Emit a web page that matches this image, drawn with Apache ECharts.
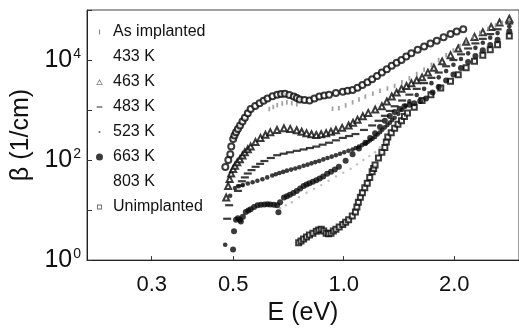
<!DOCTYPE html>
<html>
<head>
<meta charset="utf-8">
<script src="https://cdn.jsdelivr.net/npm/echarts@6/dist/echarts.min.js"></script>
<style>
html,body{margin:0;padding:0;background:#fff;}
#chart{width:519px;height:331px;}
</style>
</head>
<body>
<div id="chart"></div>
<script>
// ---- data (E in eV, beta in 1/cm) ----
const seriesNames = ['As implanted','433 K','463 K','483 K','523 K','663 K','803 K','Unimplanted'];
const xTickValues = [0.3, 0.5, 1.0, 2.0];

const asImplE = [0.627,0.643,0.659,0.680,0.700,0.722,0.745,0.932,0.970,1.012,1.057,1.100,1.145,1.200,1.255,1.315,1.376,1.440,1.509,1.580,1.655,1.733,1.813,1.900,1.989,2.070,2.154,2.250,2.348,2.470,2.590,2.700,2.823];
const asImplB = [1046,1150,1250,1350,1425,1370,1300,1060,1090,1240,1425,1620,1860,2130,2420,2700,3030,3600,4310,5250,6420,8000,10000,12500,15600,19000,23200,28500,34500,41500,49200,55500,61400];

const k433E = [0.476,0.485,0.491,0.494,0.500,0.504,0.509,0.515,0.522,0.530,0.538,0.548,0.558,0.574,0.590,0.605,0.620,0.640,0.659,0.675,0.692,0.711,0.731,0.745,0.759,0.782,0.807,0.832,0.858,0.885,0.912,0.952,0.994,1.025,1.057,1.090,1.124,1.160,1.195,1.232,1.270,1.310,1.351,1.393,1.436,1.480,1.528,1.590,1.655,1.722,1.792,1.870,1.953,2.030,2.115];
const k433B = [73,100,130,186,265,310,361,420,492,590,702,860,1050,1200,1360,1530,1700,1880,2030,2100,2120,2000,1860,1740,1630,1580,1560,1700,1860,1950,2030,2180,2320,2420,2530,2800,3160,3600,4120,4800,5620,6550,7670,8800,10000,11700,13600,16000,18600,21300,24200,28500,33000,37000,41200];

const k463E = [0.4786,0.4845,0.489,0.4936,0.500,0.5058,0.513,0.5216,0.530,0.5378,0.548,0.558,0.575,0.5933,0.612,0.631,0.658,0.6875,0.715,0.7447,0.768,0.7919,0.817,0.842,0.868,0.8954,0.923,0.9521,0.990,1.031,1.060,1.090,1.127,1.166,1.218,1.270,1.310,1.351,1.393,1.436,1.482,1.528,1.580,1.634,1.695,1.759,1.853,1.953,2.050,2.154,2.270,2.391,2.520,2.655,2.823];
const k463B = [17.8,30.3,42,53.8,66,76.7,90,104,123,143,165,186,230,277,320,361,400,431,420,394,368,345,328,316,328,345,368,394,440,492,560,642,750,876,1020,1190,1480,1860,2230,2650,3030,3450,3950,4500,5600,7020,9400,12500,17000,23200,29000,36100,45500,56200,67100];

const k483E = [0.4816,0.4875,0.5152,0.522,0.528,0.538,0.5479,0.561,0.5754,0.592,0.6081,0.633,0.6587,0.686,0.7135,0.745,0.7775,0.809,0.842,0.876,0.912,0.952,0.9939,1.034,1.076,1.135,1.195,1.244,1.294,1.335,1.376,1.442,1.509,1.580,1.655,1.733,1.814,1.900,1.989,2.085,2.181,2.283,2.391,2.505,2.623,2.823];
const k483B = [6.71,12.5,24.2,31,37.7,45,53.8,63,73.3,84,95.7,110,125,134,143,153,163,174,186,203,222,248,277,302,331,400,492,610,767,960,1190,1550,2030,2650,3450,4400,5620,7500,10000,13000,17000,21500,26500,33000,41200,53800];

const k523E = [0.4756,0.4906,0.5058,0.518,0.5313,0.548,0.5649,0.582,0.6006,0.619,0.6387,0.653,0.668,0.684,0.7004,0.719,0.738,0.757,0.7775,0.797,0.817,0.837,0.8576,0.880,0.903,0.927,0.9521,0.977,1.003,1.030,1.057,1.078,1.100,1.122,1.145,1.162,1.180,1.198,1.217,1.236,1.255,1.274,1.294,1.315,1.335,1.355,1.376,1.408,1.440,1.474,1.509,1.580,1.655,1.733,1.814,1.900,1.989,2.085,2.181,2.283,2.391,2.505,2.623,2.823];
const k523B = [2.03,19.4,27.7,30,31.6,34,36.1,38.5,41.2,45,49.2,52,55,58,61.4,64.5,68,72,76.7,81,86,91,95.7,103,110,117,125,134,143,153,163,174,186,199,212,230,248,268,290,325,360,405,451,505,560,630,702,840,1000,1220,1490,2000,2650,3450,4500,6000,8020,10500,13600,17500,22200,28000,34500,47100];

const k663E = [0.4997,0.5027,0.509,0.515,0.5216,0.5248,0.5313,0.5412,0.550,0.558,0.570,0.5825,0.595,0.6081,0.620,0.631,0.645,0.6587,0.664,0.6709,0.6875,0.700,0.7135,0.729,0.7447,0.761,0.7775,0.792,0.8066,0.824,0.842,0.860,0.879,0.901,0.9232,0.946,0.9698,1.012,1.057,1.100,1.145,1.180,1.217,1.255,1.294,1.335,1.376,1.420,1.463,1.510,1.556,1.615,1.675,1.745,1.814,1.900,1.989,2.085,2.181,2.283,2.391,2.505,2.623,2.823];
const k663B = [1.63,3.77,6.42,6.9,6.42,5.88,7.33,9.15,9.8,10.4,11.5,12.5,12.8,13.0,13.1,13.0,12.8,12.5,9,14.3,17.8,19,20.3,22,24.2,27,30.3,32.5,34.5,37,39.5,43,47.1,53,58.7,65,73.3,97,130,170,222,275,345,460,614,760,916,1050,1190,1280,1360,1520,1700,2250,2900,3900,5150,6900,9150,12000,15600,20000,25300,37700];

const k803E = [0.6709,0.696,0.7223,0.756,0.7919,0.830,0.8683,0.909,0.9521,0.997,1.044,1.087,1.131,1.173,1.217,1.255,1.294];
const k803B = [10.9,12.5,14.3,18,22.2,26.5,31.6,38.5,47.1,56,67.1,82,100,120,143,180,222];

const unimpE = [0.7539,0.765,0.7775,0.792,0.8066,0.824,0.842,0.855,0.8683,0.882,0.8954,0.909,0.9232,0.937,0.9521,0.972,0.9939,1.012,1.031,1.055,1.076,1.086,1.096,1.110,1.124,1.141,1.159,1.177,1.195,1.206,1.217,1.243,1.270,1.294,1.306,1.318,1.347,1.376,1.405,1.436,1.463,1.491,1.556,1.634,1.727,1.837,1.953,2.050,2.154,2.270,2.391,2.505,2.623,2.823];
const unimpB = [2.22,2.4,2.65,2.9,3.16,3.45,3.77,4.0,4.12,3.8,3.45,3.35,3.45,3.8,4.12,4.6,5.15,5.7,6.42,7.6,9.15,11.5,14.3,18,22.2,28,34.5,45,58.7,68,80,110,143,178,230,290,350,431,520,614,740,876,1140,1560,2030,2770,3770,5100,7020,9400,12500,16000,20300,30300];

// ---- build chart ----
function pairs(xs, ys){ return xs.map((x,i)=>[x, ys[i]]); }
const FONT = '"Liberation Sans", Arial, Helvetica, sans-serif';
const BLACK = '#0a0a0a';

const chart = echarts.init(document.getElementById('chart'), null, {renderer:'canvas'});

const series = [
  {name:'Unimplanted', data:pairs(unimpE,unimpB), symbol:'emptyRect', symbolSize:5,
   itemStyle:{color:BLACK, borderColor:BLACK, borderWidth:1.1}},
  {name:'803 K', data:pairs(k803E,k803B), symbol:'circle', symbolSize:2.4,
   itemStyle:{color:'#b0b0b0'}},
  {name:'663 K', data:pairs(k663E,k663B), symbol:'circle', symbolSize:6,
   itemStyle:{color:BLACK}},
  {name:'523 K', data:pairs(k523E,k523B), symbol:'circle', symbolSize:4.6,
   itemStyle:{color:BLACK}},
  {name:'483 K', data:pairs(k483E,k483B), symbol:'rect', symbolSize:[8,2.2],
   itemStyle:{color:BLACK}},
  {name:'463 K', data:pairs(k463E,k463B), symbol:'emptyTriangle', symbolSize:6,
   itemStyle:{color:BLACK, borderColor:BLACK, borderWidth:1.1}},
  {name:'As implanted', data:pairs(asImplE,asImplB), symbol:'rect', symbolSize:[1.8,4.5],
   itemStyle:{color:'#8a8a8a'}},
  {name:'433 K', data:pairs(k433E,k433B), symbol:'emptyCircle', symbolSize:6,
   itemStyle:{color:BLACK, borderColor:BLACK, borderWidth:1.1}}
].map(s => Object.assign({type:'scatter', animation:false, silent:true}, s));

const hidden = {color:'rgba(0,0,0,0)', borderColor:'rgba(0,0,0,0)', borderWidth:0};
const legendData = [
  {name:'As implanted', icon:'path://M0,0M10,10M4.2,1.5L5.8,1.5L5.8,8.5L4.2,8.5Z', itemStyle:{color:'#666', borderWidth:0}},
  {name:'433 K', icon:'circle', itemStyle:hidden},
  {name:'463 K', icon:'path://M0,0M10,10M5,0.8L9.6,9.2L0.4,9.2Z M5,3.2L1.9,8.1L8.1,8.1Z', itemStyle:{color:'#555', borderWidth:0}},
  {name:'483 K', icon:'path://M0,0M10,10M1,4.2L9,4.2L9,5.8L1,5.8Z', itemStyle:{color:BLACK, borderWidth:0}},
  {name:'523 K', icon:'path://M0,0M10,10M3.8,3.8L6.2,3.8L6.2,6.2L3.8,6.2Z', itemStyle:{color:'#333', borderWidth:0}},
  {name:'663 K', icon:'circle', itemStyle:{color:BLACK, borderWidth:0}},
  {name:'803 K', icon:'circle', itemStyle:hidden},
  {name:'Unimplanted', icon:'path://M0,0M10,10M1.5,1.5L8.5,1.5L8.5,8.5L1.5,8.5Z M2.8,2.8L2.8,7.2L7.2,7.2L7.2,2.8Z', itemStyle:{color:'#444', borderWidth:0}}
];

chart.setOption({
  backgroundColor:'#fff',
  animation:false,
  textStyle:{fontFamily:FONT},
  grid:{left:87, right:-9, top:10, bottom:61, show:true, borderColor:'#444', borderWidth:1, backgroundColor:'transparent'},
  legend:{
    data:legendData, orient:'vertical', left:96, top:24, padding:0,
    itemWidth:7, itemHeight:7, itemGap:9, selectedMode:false,
    textStyle:{fontFamily:FONT, fontSize:16, color:'#111', lineHeight:16, padding:[0,0,0,5]}
  },
  xAxis:{
    type:'log', logBase:10, min:0.2, max:3,
    name:'E (eV)', nameLocation:'middle', nameGap:34,
    nameTextStyle:{fontFamily:FONT, fontSize:25, color:'#111'},
    axisLine:{show:true, lineStyle:{color:'#222', width:1}},
    axisTick:{show:true, inside:true, length:4, customValues:xTickValues, lineStyle:{color:'#333'}},
    minorTick:{show:false},
    splitLine:{show:false},
    axisLabel:{customValues:xTickValues, margin:14, fontFamily:FONT, fontSize:22, color:'#111',
      formatter:v=>Number(v).toFixed(1)}
  },
  yAxis:{
    type:'log', logBase:10, min:1, max:100000,
    name:'β (1/cm)', nameLocation:'middle', nameGap:49,
    nameTextStyle:{fontFamily:FONT, fontSize:25, color:'#111'},
    axisLine:{show:true, lineStyle:{color:'#222', width:1}},
    axisTick:{show:true, inside:true, length:5, lineStyle:{color:'#333'}},
    splitLine:{show:false},
    axisLabel:{margin:6, fontFamily:FONT, color:'#111',
      formatter:function(v){
        const e = Math.round(Math.log10(v));
        return (e % 2 === 0 && e < 5) ? '{b|10}{s|' + e + '}' : '';
      },
      rich:{
        b:{fontFamily:FONT, fontSize:25, color:'#111'},
        s:{fontFamily:FONT, fontSize:14, color:'#111', padding:[0,0,12,1]}
      }
    }
  },
  series:series
});
</script>
</body>
</html>
